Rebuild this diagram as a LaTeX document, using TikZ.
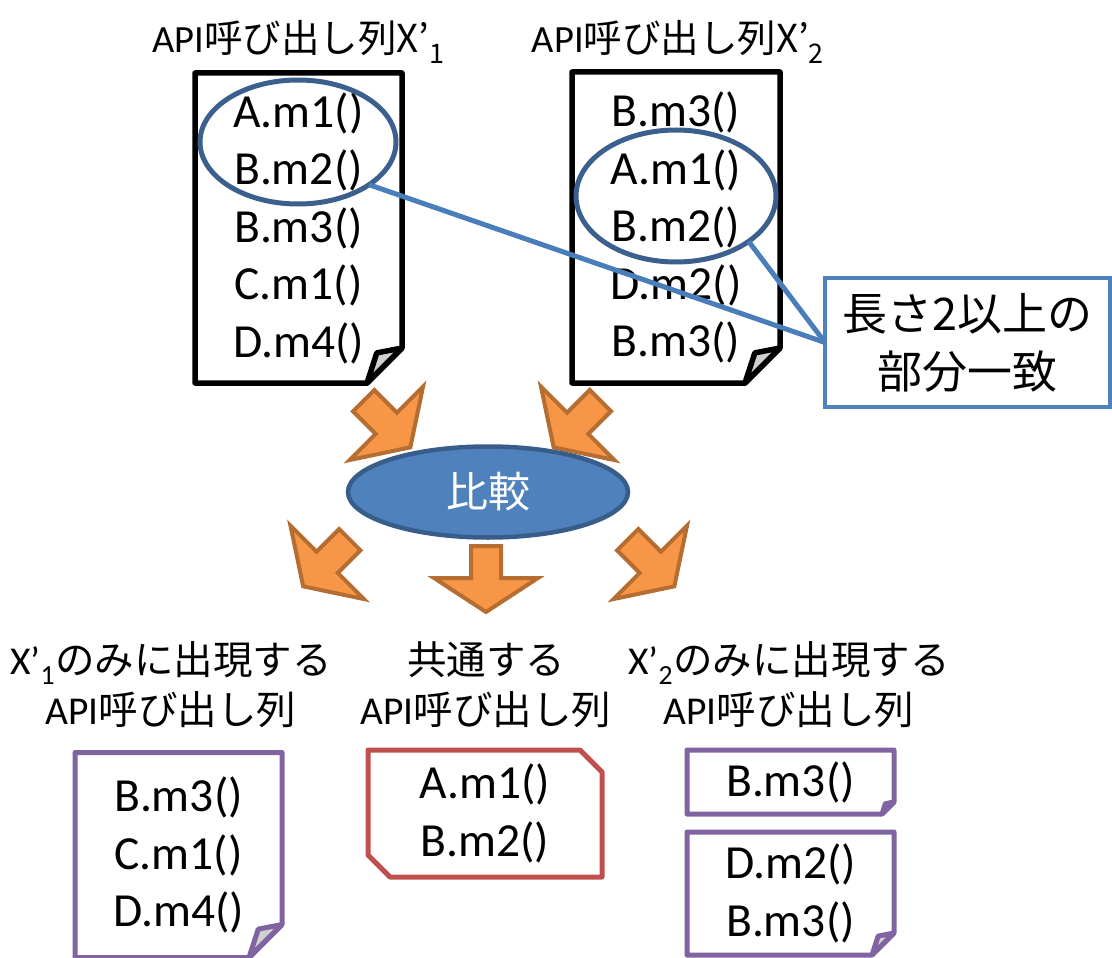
\documentclass[tikz,border=0pt]{standalone}
\usepackage{fontspec}
\setmainfont{Carlito}
\newfontfamily\jp{Noto Sans CJK JP}
\usetikzlibrary{shapes.geometric}
\definecolor{obrd}{RGB}{182,109,49}
\definecolor{ofill}{RGB}{247,150,70}
\definecolor{bfill}{RGB}{79,129,189}
\definecolor{bbrd}{RGB}{56,93,138}
\definecolor{ringc}{RGB}{60,96,142}
\definecolor{linec}{RGB}{74,126,187}
\definecolor{purp}{RGB}{128,100,162}
\definecolor{redc}{RGB}{192,80,77}
\definecolor{flapc}{RGB}{208,208,208}
\tikzset{
  docnode/.style={inner sep=0pt, outer sep=0pt, align=center, font=\fontsize{47.5}{57.5}\selectfont},
  blackbd/.style={draw=black, line width=5.5pt, line join=round},
  purpbd/.style={draw=purp, line width=5pt, line join=round},
  redbd/.style={draw=redc, line width=5pt, line join=round},
  ring/.style={ellipse, draw=ringc, line width=5pt, inner sep=0pt, outer sep=0pt},
  calline/.style={draw=linec, line width=5pt},
  notebox/.style={draw=bfill, fill=white, line width=4.5pt, inner sep=0pt, outer sep=0pt, align=center, font=\jp\fontsize{45}{58}\selectfont},
  cmpnode/.style={ellipse, fill=bfill, draw=bbrd, line width=4.5pt, inner sep=0pt, text=white, font=\jp\fontsize{42}{48}\selectfont},
  orangearrow/.style={fill=ofill, draw=obrd, line width=4pt, line join=miter},
  ttl/.style={anchor=base, inner sep=0pt, font=\fontsize{38.5}{48}\selectfont},
  lbl/.style={inner sep=0pt, align=center, font=\fontsize{39.5}{50}\selectfont},
}
\newcommand{\foldoutline}[3]{%
  \draw[#3] (#1.north west) -- (#1.north east) -- ([yshift=#2]#1.south east)
    -- ([xshift=-#2]#1.south east) -- (#1.south west) -- cycle;
  \draw[#3, fill=flapc] ([xshift=-#2]#1.south east) -- ([xshift={-0.72*#2}, yshift={0.86*#2}]#1.south east)
    -- ([yshift=#2]#1.south east) -- cycle;
}
\newcommand{\blockarrow}[3]{%
  \begin{scope}[shift={(#1,#2)}, rotate=#3]
    \draw[orangearrow] (-15,-33) -- (15,-33) -- (15,-1) -- (52,-1) -- (0,33) -- (-52,-1) -- (-15,-1) -- cycle;
  \end{scope}
}
\begin{document}
\begin{tikzpicture}[x=1pt, y=-1pt]
\useasboundingbox (0,0) rectangle (1112,958);

% titles
\node[ttl] (t1) at (298.5,53) {API\jp{呼び出し列}X’\textsubscript{1}};
\node[ttl] (t2) at (678,53) {API\jp{呼び出し列}X’\textsubscript{2}};

% top documents
\node[docnode, minimum width=207pt, minimum height=310pt] (doc1) at (298.5,228) {A.m1()\\B.m2()\\B.m3()\\C.m1()\\D.m4()};
\foldoutline{doc1}{35pt}{blackbd}
\node[docnode, minimum width=208pt, minimum height=311pt] (doc2) at (676,227.5) {B.m3()\\A.m1()\\B.m2()\\D.m2()\\B.m3()};
\foldoutline{doc2}{35pt}{blackbd}

% match rings
\node[ring, minimum width=196pt, minimum height=124pt] (e1) at (298,142) {};
\node[ring, minimum width=200pt, minimum height=132pt] (e2) at (676,196) {};

% callout
\node[notebox, minimum width=285pt, minimum height=129pt] (note) at (967.5,342.5) {長さ2以上の\\部分一致};
\draw[calline] (note.west) -- (e1.-31);
\draw[calline] (note.west) -- (e2.-32);

% arrows
\blockarrow{387}{424}{45}
\blockarrow{577}{424}{-45}
\blockarrow{326.5}{563}{-45}
\blockarrow{651}{563}{45}
\blockarrow{486}{579}{0}

% compare
\node[cmpnode, minimum width=280pt, minimum height=91pt] (cmp) at (488,492) {比較};

% bottom labels
\node[lbl] (l1) at (171,685) {X’\textsubscript{1}\jp{のみに出現する}\\API\jp{呼び出し列}};
\node[lbl] (l2) at (486,685) {\jp{共通する}\\API\jp{呼び出し列}};
\node[lbl] (l3) at (789,685) {X’\textsubscript{2}\jp{のみに出現する}\\API\jp{呼び出し列}};

% bottom documents
\node[docnode, minimum width=207pt, minimum height=205pt] (b1) at (178.5,855) {B.m3()\\C.m1()\\D.m4()};
\foldoutline{b1}{33pt}{purpbd}
\node[docnode, minimum width=234pt, minimum height=127pt] (b2) at (485,813.5) {A.m1()\\B.m2()};
\draw[redbd] (b2.north west) -- ([xshift=-22pt]b2.north east) -- ([yshift=-22pt]b2.north east)
  -- (b2.south east) -- ([xshift=22pt]b2.south west) -- ([yshift=22pt]b2.south west) -- cycle;
\node[docnode, minimum width=207pt, minimum height=64pt] (b3) at (790.5,782) {B.m3()};
\foldoutline{b3}{12pt}{purpbd}
\node[docnode, minimum width=207pt, minimum height=123pt] (b4) at (790.5,893.5) {D.m2()\\B.m3()};
\foldoutline{b4}{22pt}{purpbd}
\end{tikzpicture}
\end{document}
